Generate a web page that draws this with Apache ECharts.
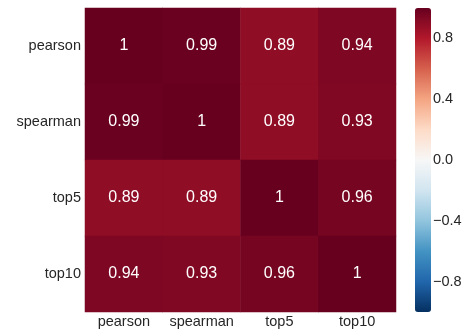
<!DOCTYPE html>
<html>
<head>
<meta charset="utf-8">
<script src="https://cdn.jsdelivr.net/npm/echarts@6/dist/echarts.min.js"></script>
<style>
  html, body { margin: 0; padding: 0; background: #fff; }
  #chart { width: 465px; height: 333px; }
</style>
</head>
<body>
<div id="chart"></div>
<script>
// Correlation matrix between ranking measures
const xLabels = ['pearson', 'spearman', 'top5', 'top10'];
const yLabels = ['pearson', 'spearman', 'top5', 'top10'];
const rowPearson  = [1, 0.99, 0.89, 0.94];
const rowSpearman = [0.99, 1, 0.89, 0.93];
const rowTop5     = [0.89, 0.89, 1, 0.96];
const rowTop10    = [0.94, 0.93, 0.96, 1];
const colorbarTicks = [0.8, 0.4, 0.0, -0.4, -0.8];

const rows = [rowPearson, rowSpearman, rowTop5, rowTop10];
const cells = [];
rows.forEach((row, yi) => row.forEach((v, xi) => cells.push([xi, yi, v])));

// RdBu reversed, low to high
const rdbuR = ['#053061', '#2166ac', '#4393c3', '#92c5de', '#d1e5f0', '#f7f7f7',
               '#fddbc7', '#f4a582', '#d6604d', '#b2182b', '#67001f'];

const fontFamily = '"Liberation Sans", Arial, sans-serif';
const textColor = '#262626';
const tickFont = 14.5;

const chart = echarts.init(document.getElementById('chart'), null, { renderer: 'canvas' });
chart.setOption({
  animation: false,
  backgroundColor: '#fff',
  grid: [
    { left: 85, top: 8, width: 311, height: 304 },
    { left: 415, top: 8, width: 16, height: 304 }
  ],
  xAxis: [
    {
      type: 'category', data: xLabels, gridIndex: 0,
      axisLine: { show: false }, axisTick: { show: false }, splitLine: { show: false },
      axisLabel: { color: textColor, fontSize: tickFont, fontFamily, margin: 2, interval: 0 }
    },
    {
      type: 'value', gridIndex: 1, show: false, min: 0, max: 1
    }
  ],
  yAxis: [
    {
      type: 'category', data: yLabels, gridIndex: 0, inverse: true,
      axisLine: { show: false }, axisTick: { show: false }, splitLine: { show: false },
      axisLabel: { color: textColor, fontSize: tickFont, fontFamily, margin: 4, interval: 0 }
    },
    {
      type: 'value', gridIndex: 1, position: 'right', min: -1, max: 1, interval: 0.2,
      axisLine: { show: false }, axisTick: { show: false }, splitLine: { show: false },
      axisLabel: {
        color: textColor, fontSize: tickFont, fontFamily, margin: 2,
        formatter: (v) => {
          const hit = colorbarTicks.find(t => Math.abs(t - v) < 1e-6);
          if (hit === undefined) return '';
          return (hit < 0 ? '\u2212' : '') + Math.abs(hit).toFixed(1);
        }
      }
    }
  ],
  visualMap: {
    type: 'continuous',
    min: -1, max: 1,
    seriesIndex: 0,
    calculable: false,
    orient: 'vertical',
    left: 415, top: 8,
    itemWidth: 16, itemHeight: 304,
    padding: 0,
    text: null,
    showLabel: false,
    inRange: { color: rdbuR }
  },
  series: [{
    type: 'heatmap',
    xAxisIndex: 0, yAxisIndex: 0,
    data: cells,
    label: {
      show: true, color: '#fff', fontSize: 16, fontFamily,
      formatter: (p) => String(p.value[2])
    },
    itemStyle: { borderWidth: 0 },
    emphasis: { disabled: true }
  }]
});
</script>
</body>
</html>
